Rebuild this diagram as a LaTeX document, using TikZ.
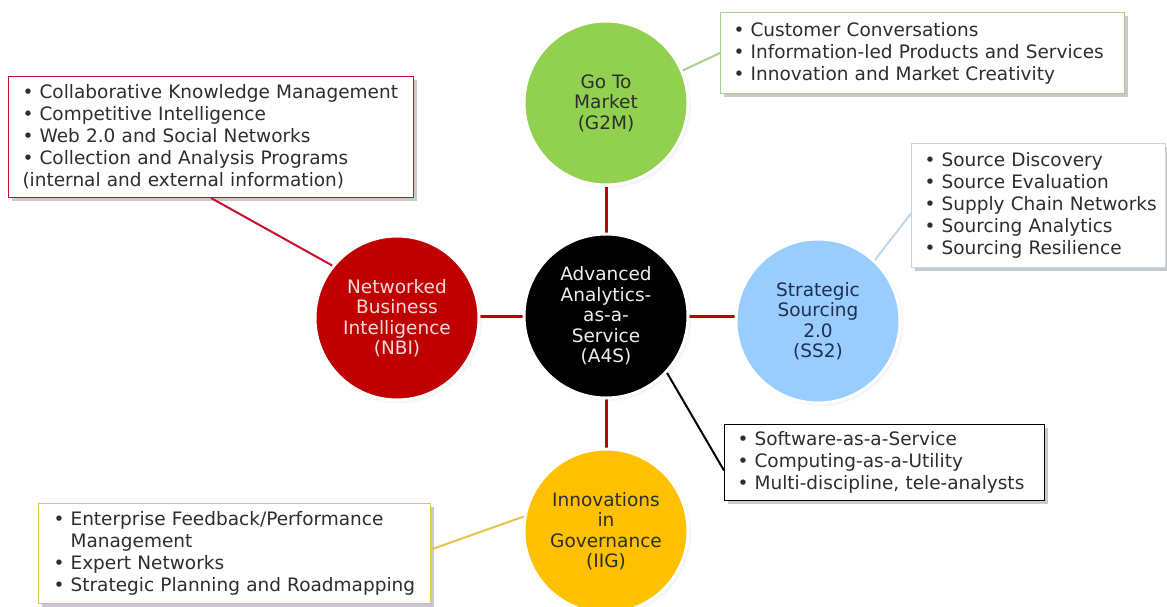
\documentclass[tikz,border=0pt]{standalone}
\usepackage{fontspec}
\setmainfont{DejaVu Sans}
\usetikzlibrary{shadows,backgrounds}
\definecolor{hubgreen}{HTML}{92D050}
\definecolor{hubblue}{HTML}{99CCFF}
\definecolor{hubred}{HTML}{C00000}
\definecolor{hubyellow}{HTML}{FFC000}
\definecolor{spokered}{HTML}{C00000}
\definecolor{boxtext}{HTML}{2E2E2E}
\definecolor{nbiedge}{HTML}{C8102E}
\definecolor{greenedge}{HTML}{A9D18E}
\definecolor{blueedge}{HTML}{BDD7EE}
\definecolor{yellowedge}{HTML}{E8C34A}
\definecolor{lighttext}{HTML}{EDEDED}
\definecolor{pinktext}{HTML}{F4DADA}
\definecolor{navytext}{HTML}{1F2F4F}
\begin{document}
\begin{tikzpicture}[x=1pt,y=-1pt,
  hub/.style={circle, minimum size=164pt, inner sep=0pt, draw=white, line width=3pt,
    align=center, font=\fontsize{18.5}{20.5}\selectfont,
    circular drop shadow={shadow xshift=2pt, shadow yshift=-2pt, shadow scale=1.02, opacity=0.3, fill=black!60}},
  infobox/.style={draw, fill=white, line width=1pt, align=left, anchor=north west, inner ysep=0pt,
    font=\fontsize{18.5}{22}\selectfont, text=boxtext,
    drop shadow={shadow xshift=3pt, shadow yshift=-3pt, opacity=0.35, fill=black!60}},
  spoke/.style={draw=spokered, line width=3pt},
  link/.style={line width=2pt}]
\useasboundingbox (0,0) rectangle (1167,606);

% circles
\node[hub, fill=black, text=lighttext] (a4s) at (606,316) {Advanced\\Analytics-\\as-a-\\Service\\(A4S)};
\node[hub, fill=hubgreen, text=boxtext] (g2m) at (606,103) {Go To\\Market\\(G2M)};
\node[hub, fill=hubred, text=pinktext] (nbi) at (397,318) {Networked\\Business\\Intelligence\\(NBI)};
\node[hub, fill=hubblue, text=navytext] (ss2) at (818,321) {Strategic\\Sourcing\\2.0\\(SS2)};
\node[hub, fill=hubyellow, text=boxtext] (iig) at (606,531) {Innovations\\in\\Governance\\(IIG)};

% boxes
\node[infobox, draw=nbiedge, inner xsep=14pt, text width=377pt, minimum height=121pt] (nbibox) at (8,76)
 {• Collaborative Knowledge Management\\• Competitive Intelligence\\• Web 2.0 and Social Networks\\• Collection and Analysis Programs\\(internal and external information)};
\node[infobox, draw=greenedge, inner xsep=13pt, text width=378pt, minimum height=81pt] (g2mbox) at (720,12)
 {• Customer Conversations\\• Information-led Products and Services\\• Innovation and Market Creativity};
\node[infobox, draw=blueedge, inner xsep=13pt, text width=228pt, minimum height=124pt] (ss2box) at (911,143)
 {• Source Discovery\\• Source Evaluation\\\mbox{• Supply Chain Networks}\\• Sourcing Analytics\\• Sourcing Resilience};
\node[infobox, draw=black, inner xsep=13pt, text width=294pt, minimum height=76pt] (a4sbox) at (724,424)
 {• Software-as-a-Service\\• Computing-as-a-Utility\\• Multi-discipline, tele-analysts};
\node[infobox, draw=yellowedge, inner xsep=15pt, text width=362pt, minimum height=100pt] (iigbox) at (38,503)
 {• Enterprise Feedback/Performance\\\hphantom{• }Management\\• Expert Networks\\• Strategic Planning and Roadmapping};

\begin{scope}[on background layer]
\fill[white] (0,0) rectangle (1167,606);
\draw[spoke] (g2m) -- (iig);
\draw[spoke] (nbi.center |- a4s) -- (a4s.center -| ss2);
\end{scope}

% connectors
\draw[link, draw=nbiedge] (nbibox.south) -- (nbi.141);
\draw[link, draw=greenedge] (g2m.23) -- (g2mbox.west);
\draw[link, draw=blueedge] (ss2.47) -- ([yshift=-8pt]ss2box.west);
\draw[link, draw=black] (a4s.-43) -- ([yshift=-8pt]a4sbox.west);
\draw[link, draw=yellowedge] (iig.170) -- ([yshift=4pt]iigbox.east);
\end{tikzpicture}
\end{document}
